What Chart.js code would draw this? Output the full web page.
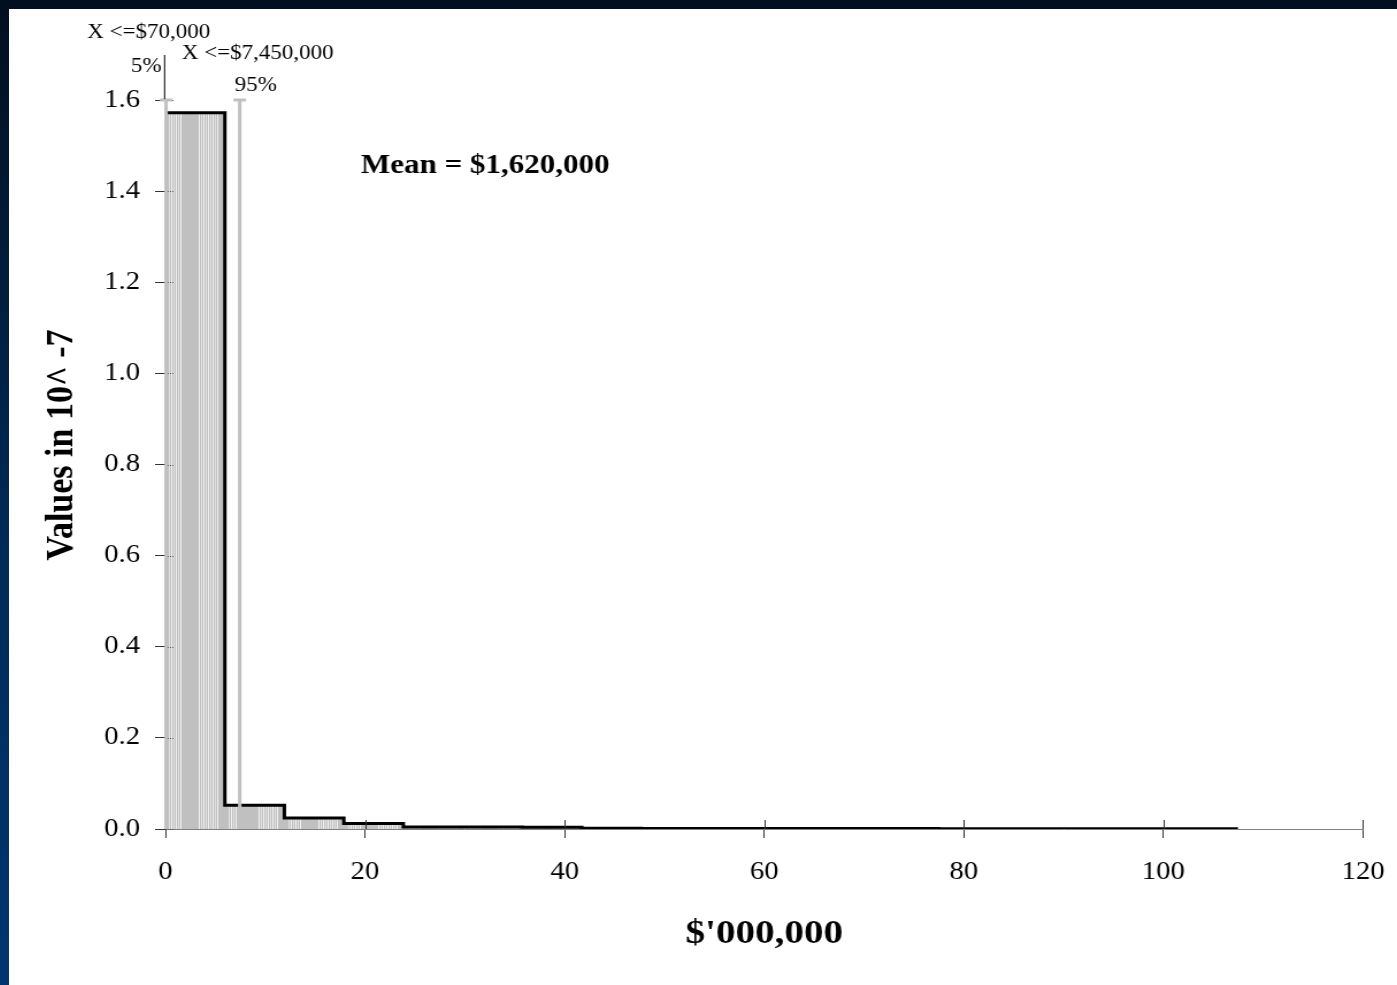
<!DOCTYPE html>
<html>
<head>
<meta charset="utf-8">
<script src="https://cdn.jsdelivr.net/npm/chart.js@4.4.1/dist/chart.umd.min.js"></script>
<style>
  html, body { margin: 0; padding: 0; width: 1397px; height: 985px; overflow: hidden; }
  body { background: linear-gradient(to bottom, #020f1f 0%, #012a57 55%, #003670 100%); position: relative; }
  #box { position: absolute; left: 9px; top: 9px; width: 1388px; height: 976px; background: #ffffff; overflow: hidden; }
  #c { position: absolute; left: 0; top: 0; transform: scaleX(1.15); transform-origin: 0 0; }
</style>
</head>
<body>
<div id="box"><canvas id="c" width="1207" height="976"></canvas></div>
<script>
// ---- data ----
const binStarts = [0, 5.96, 11.92, 17.88, 23.84, 29.81, 35.77, 41.73, 47.69, 53.65, 59.61, 65.57, 71.53, 77.49, 83.45, 89.42, 95.38, 101.34];
const binEnd = 107.3;
const density = [1.572, 0.052, 0.024, 0.012, 0.0045, 0.0045, 0.004, 0.0015, 0.0013, 0.0012, 0.001, 0.001, 0.0009, 0.0008, 0.0008, 0.0007, 0.0006, 0.0005];
const xTicks = [0, 20, 40, 60, 80, 100, 120];
const yTicks = [0.0, 0.2, 0.4, 0.6, 0.8, 1.0, 1.2, 1.4, 1.6];
const markerValues = [0.07, 7.45];
const markerPercents = ['5%', '95%'];
const markerTexts = ['X <=$70,000', 'X <=$7,450,000'];
const meanText = 'Mean = $1,620,000';
const xTitle = "$'000,000";
const yTitle = 'Values in 10^ -7';

const FONT = "'Liberation Serif', 'Times New Roman', serif";

// striped fill pattern
function makePattern() {
  const t = document.createElement('canvas');
  t.width = 52; t.height = 4;
  const g = t.getContext('2d');
  g.fillStyle = '#c0c0c0';
  g.fillRect(0, 0, 52, 4);
  for (let c = 0; c < 52; c++) {
    const p = c * 1.15;
    const striped = (p >= 2 && p < 17) || (p >= 32 && p < 54);
    if (striped && c % 2 === 1) {
      g.fillStyle = (c % 4 === 1) ? '#f2f2f2' : '#e2e2e2';
      g.fillRect(c, 0, 1, 4);
    }
  }
  return g.createPattern(t, 'repeat');
}
const pattern = makePattern();

const points = binStarts.map((x, i) => ({ x: x, y: density[i] }));
points.push({ x: binEnd, y: 0 });

const overlay = {
  id: 'overlay',
  beforeDatasetsDraw(chart) {
    const x0 = chart.scales.x.getPixelForValue(0);
    if (pattern.setTransform) pattern.setTransform(new DOMMatrix([1, 0, 0, 1, x0, 0]));
  },
  afterDatasetsDraw(chart) {
    const { ctx, scales: { x, y } } = chart;
    ctx.save();
    // inner dotted y tick extensions
    ctx.strokeStyle = '#555555';
    ctx.lineWidth = 1;
    ctx.setLineDash([1, 1]);
    yTicks.forEach(v => {
      const py = Math.round(y.getPixelForValue(v)) + 0.5;
      const px = x.getPixelForValue(0);
      ctx.beginPath(); ctx.moveTo(px, py); ctx.lineTo(px + 8, py); ctx.stroke();
    });
    ctx.setLineDash([]);
    // upper part of x ticks
    ctx.strokeStyle = '#333333';
    const py0 = y.getPixelForValue(0);
    xTicks.forEach(v => {
      const px = Math.round(x.getPixelForValue(v)) + 0.5;
      ctx.beginPath(); ctx.moveTo(px, py0); ctx.lineTo(px, py0 - 9); ctx.stroke();
    });
    // percentile markers
    const yTop = y.getPixelForValue(1.6);
    ctx.strokeStyle = '#c0c0c0';
    ctx.lineWidth = 3;
    markerValues.forEach(v => {
      const px = x.getPixelForValue(v);
      ctx.beginPath(); ctx.moveTo(px, yTop); ctx.lineTo(px, py0); ctx.stroke();
      ctx.beginPath(); ctx.moveTo(px - 5.5, yTop); ctx.lineTo(px + 5.5, yTop); ctx.stroke();
    });
    // thin leader line above the 5% marker
    const p5 = x.getPixelForValue(markerValues[0]) - 1.3;
    ctx.strokeStyle = '#000000';
    ctx.lineWidth = 1;
    ctx.beginPath(); ctx.moveTo(p5, yTop - 45); ctx.lineTo(p5, yTop - 1); ctx.stroke();
    // marker labels
    ctx.fillStyle = '#000000';
    ctx.font = '20px ' + FONT;
    ctx.textBaseline = 'alphabetic';
    const m0 = x.getPixelForValue(markerValues[0]);
    const m1 = x.getPixelForValue(markerValues[1]);
    ctx.textAlign = 'center';
    ctx.fillText(markerTexts[0], m0 - 15, yTop - 62);
    ctx.textAlign = 'right';
    ctx.fillText(markerPercents[0], m0 - 4, yTop - 28);
    ctx.textAlign = 'center';
    ctx.fillText(markerTexts[1], m1 + 15.6, yTop - 41);
    ctx.fillText(markerPercents[1], m1 + 14, yTop - 9);
    // mean label
    ctx.font = 'bold 27px ' + FONT;
    ctx.textAlign = 'left';
    ctx.fillText(meanText, 306, 164);
    // y axis title
    ctx.font = 'bold 34px ' + FONT;
    ctx.translate(46, 436);
    ctx.rotate(-Math.PI / 2);
    ctx.textAlign = 'center';
    ctx.textBaseline = 'middle';
    ctx.fillText(yTitle, 0, 0);
    ctx.restore();
  }
};

new Chart(document.getElementById('c'), {
  type: 'line',
  data: {
    datasets: [{
      data: points,
      stepped: 'before',
      borderColor: '#000000',
      borderWidth: 3,
      borderJoinStyle: 'miter',
      backgroundColor: pattern,
      fill: 'origin',
      pointRadius: 0,
      tension: 0
    }]
  },
  options: {
    responsive: false,
    animation: false,
    devicePixelRatio: 1,
    layout: { padding: { left: 0, top: 91, right: 29.6, bottom: 0 } },
    plugins: { legend: { display: false }, tooltip: { enabled: false } },
    scales: {
      x: {
        type: 'linear',
        min: 0, max: 120,
        afterBuildTicks(scale) { scale.ticks = xTicks.map(v => ({ value: v })); },
        afterFit(scale) { scale.height = 156; scale.paddingLeft = 0; scale.paddingRight = 0; },
        ticks: { font: { family: FONT, size: 25 }, color: '#000000', padding: 19, maxRotation: 0, autoSkip: false },
        grid: { drawOnChartArea: false, drawTicks: true, tickLength: 9, tickColor: '#333333' },
        border: { color: '#808080', width: 1 },
        title: { display: true, text: xTitle, color: '#000000', font: { family: FONT, size: 34, weight: 'bold' }, padding: { top: 0, bottom: 30 } }
      },
      y: {
        type: 'linear',
        min: 0, max: 1.6,
        afterBuildTicks(scale) { scale.ticks = yTicks.map(v => ({ value: v })); },
        afterFit(scale) { scale.width = 136; scale.paddingTop = 0; scale.paddingBottom = 0; },
        ticks: { font: { family: FONT, size: 25 }, color: '#000000', padding: 13, callback: v => Number(v).toFixed(1) },
        grid: { drawOnChartArea: false, drawTicks: true, tickLength: 9, tickColor: '#333333' },
        border: { color: '#000000', width: 1 }
      }
    }
  },
  plugins: [overlay]
});
</script>
</body>
</html>
